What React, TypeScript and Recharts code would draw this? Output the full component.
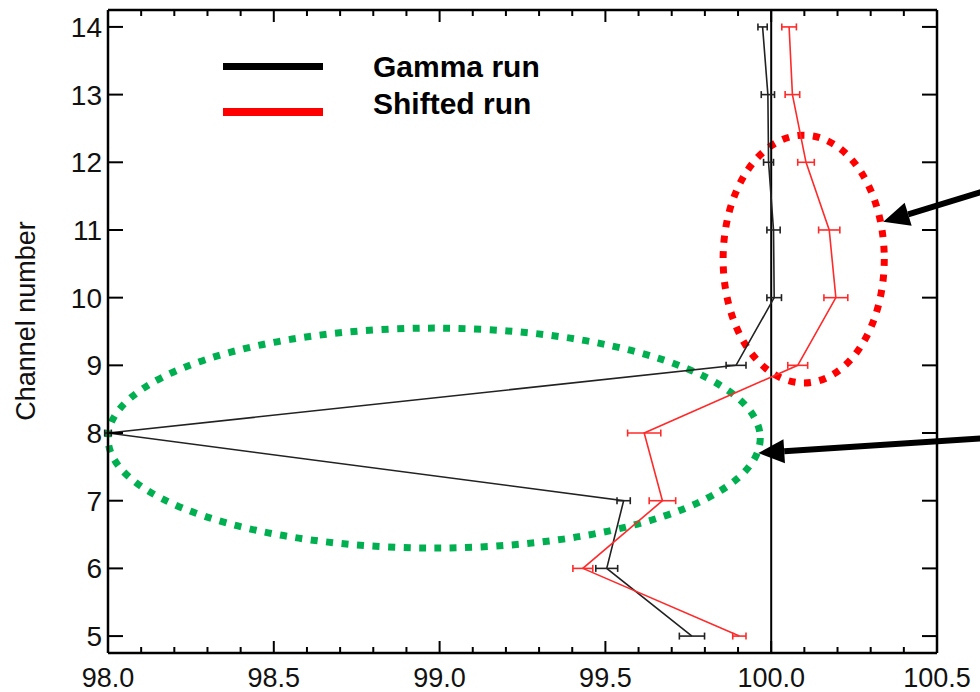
import { ComposedChart, Scatter, XAxis, YAxis, ErrorBar, ReferenceLine, ReferenceArea } from 'recharts';

const channels = [5, 6, 7, 8, 9, 10, 11, 12, 13, 14];
const gammaValues = [99.761, 99.504, 99.555, 98.0, 99.894, 100.009, 100.007, 99.992, 99.99, 99.974];
const gammaErrors = [0.038, 0.033, 0.02, 0.01, 0.03, 0.022, 0.02, 0.015, 0.02, 0.014];
const shiftedValues = [99.904, 99.432, 99.672, 99.617, 100.08, 100.195, 100.175, 100.105, 100.064, 100.054];
const shiftedErrors = [0.02, 0.03, 0.04, 0.05, 0.03, 0.036, 0.032, 0.025, 0.022, 0.022];

const xMajorTicks = [98.0, 98.5, 99.0, 99.5, 100.0, 100.5];
const xMinorTicks = [
  98.0, 98.1, 98.2, 98.3, 98.4, 98.5, 98.6, 98.7, 98.8, 98.9,
  99.0, 99.1, 99.2, 99.3, 99.4, 99.5, 99.6, 99.7, 99.8, 99.9,
  100.0, 100.1, 100.2, 100.3, 100.4, 100.5,
];

const X_DOMAIN = [98, 100.5];
const Y_DOMAIN = [4.75, 14.25];

// plot box, from the chart margins and axis sizes below
const PLOT = { left: 108, right: 937, top: 10, bottom: 653 };
const sx = (v: number) => PLOT.left + ((v - X_DOMAIN[0]) / (X_DOMAIN[1] - X_DOMAIN[0])) * (PLOT.right - PLOT.left);
const sy = (v: number) => PLOT.bottom - ((v - Y_DOMAIN[0]) / (Y_DOMAIN[1] - Y_DOMAIN[0])) * (PLOT.bottom - PLOT.top);

const FONT = '"Liberation Sans", Arial, Helvetica, sans-serif';

const gammaData = channels.map((ch, i) => ({ ch, x: gammaValues[i], err: gammaErrors[i] }));
const shiftedData = channels.map((ch, i) => ({ ch, x: shiftedValues[i], err: shiftedErrors[i] }));

const isMajor = (v: number) => xMajorTicks.some((m) => Math.abs(m - v) < 1e-6);

// bottom axis: tickSize 0, so the axis line sits tickMargin above y
const BottomTick = ({ x, y, payload }: any) => {
  const axisY = y - 16;
  const major = isMajor(payload.value);
  return (
    <g>
      <line x1={x} x2={x} y1={axisY} y2={axisY - (major ? 12 : 6)} stroke="#000" strokeWidth={2} />
      {major && (
        <text x={x} y={axisY + 34} textAnchor="middle" fontSize={27} fontFamily={FONT} fill="#111">
          {payload.value.toFixed(1)}
        </text>
      )}
    </g>
  );
};

const LeftTick = ({ x, y, payload }: any) => (
  <g>
    <line x1={x + 6} x2={x + 21} y1={y} y2={y} stroke="#000" strokeWidth={2} />
    <text x={x} y={y + 10} textAnchor="end" fontSize={28} fontFamily={FONT} fill="#111">
      {payload.value}
    </text>
  </g>
);

const NoDot = () => <g />;

const dottedEllipse = (color: string) => (props: any) => {
  const { x, y, width, height } = props;
  return (
    <ellipse
      cx={x + width / 2}
      cy={y + height / 2}
      rx={width / 2}
      ry={height / 2}
      fill="none"
      stroke={color}
      strokeWidth={7}
      strokeDasharray="7 8.5"
    />
  );
};

const arrowShape = (props: any) => {
  const { x1, y1, x2, y2 } = props;
  // x1,y1 = tail (off to the right), x2,y2 = tip
  const ang = Math.atan2(y2 - y1, x2 - x1);
  const len = 26;
  const half = 12;
  const bx = x2 - len * Math.cos(ang);
  const by = y2 - len * Math.sin(ang);
  const px = -Math.sin(ang) * half;
  const py = Math.cos(ang) * half;
  return (
    <g>
      <line x1={x1} y1={y1} x2={bx} y2={by} stroke="#000" strokeWidth={6} />
      <polygon points={`${x2},${y2} ${bx + px},${by + py} ${bx - px},${by - py}`} fill="#000" />
    </g>
  );
};

export default function App() {
  return (
    <div style={{ position: 'absolute', left: 0, top: 0, width: 980, height: 692, background: '#fff' }}>
      <ComposedChart width={980} height={692} margin={{ top: 9, right: 42, bottom: 0, left: 0 }}>
        <XAxis
          type="number"
          dataKey="x"
          domain={X_DOMAIN}
          allowDataOverflow
          ticks={xMinorTicks}
          interval={0}
          tickSize={0}
          tickMargin={16}
          tickLine={false}
          height={39}
          axisLine={{ stroke: '#000', strokeWidth: 2.5 }}
          tick={<BottomTick />}
        />
        <XAxis
          xAxisId="top"
          orientation="top"
          type="number"
          dataKey="x"
          domain={X_DOMAIN}
          allowDataOverflow
          tick={false}
          tickLine={false}
          height={1}
          axisLine={{ stroke: '#000', strokeWidth: 2.5 }}
        />
        <YAxis
          type="number"
          dataKey="ch"
          domain={Y_DOMAIN}
          allowDataOverflow
          ticks={channels}
          interval={0}
          tickSize={0}
          tickMargin={6}
          tickLine={false}
          width={108}
          axisLine={{ stroke: '#000', strokeWidth: 2.5 }}
          tick={<LeftTick />}
        />
        <YAxis
          yAxisId="right"
          orientation="right"
          type="number"
          dataKey="ch"
          domain={Y_DOMAIN}
          allowDataOverflow
          tick={false}
          tickLine={false}
          width={1}
          axisLine={{ stroke: '#000', strokeWidth: 2.5 }}
        />

        <ReferenceLine x={100} stroke="#000" strokeWidth={2} />

        <Scatter
          name="Gamma run"
          data={gammaData}
          line={{ stroke: '#222', strokeWidth: 1.6 }}
          shape={<NoDot />}
          isAnimationActive={false}
        >
          <ErrorBar dataKey="err" direction="x" width={3.5} stroke="#222" strokeWidth={1.6} />
        </Scatter>
        <Scatter
          name="Shifted run"
          data={shiftedData}
          line={{ stroke: '#ff2a2a', strokeWidth: 1.6 }}
          shape={<NoDot />}
          isAnimationActive={false}
        >
          <ErrorBar dataKey="err" direction="x" width={3.5} stroke="#ff2a2a" strokeWidth={1.6} />
        </Scatter>

        <ReferenceArea x1={99.855} x2={100.341} y1={8.74} y2={12.4} ifOverflow="visible" shape={dottedEllipse('#ff0000')} />
        <ReferenceArea x1={98.0} x2={99.967} y1={6.3} y2={9.55} ifOverflow="visible" shape={dottedEllipse('#00b050')} />

        <ReferenceLine
          segment={[{ x: 100.66, y: 11.6 }, { x: 100.338, y: 11.12 }]}
          ifOverflow="visible"
          shape={arrowShape}
        />
        <ReferenceLine
          segment={[{ x: 100.66, y: 7.93 }, { x: 99.961, y: 7.705 }]}
          ifOverflow="visible"
          shape={arrowShape}
        />
      </ComposedChart>

      <svg
        width={980}
        height={692}
        style={{ position: 'absolute', left: 0, top: 0, pointerEvents: 'none' }}
      >
        {/* mirrored tick marks on the top and right frame */}
        {xMinorTicks.map((v) => (
          <line
            key={`tt-${v}`}
            x1={sx(v)}
            x2={sx(v)}
            y1={PLOT.top}
            y2={PLOT.top + (isMajor(v) ? 12 : 6)}
            stroke="#000"
            strokeWidth={2}
          />
        ))}
        {channels.map((c) => (
          <line
            key={`rt-${c}`}
            x1={PLOT.right}
            x2={PLOT.right - 15}
            y1={sy(c)}
            y2={sy(c)}
            stroke="#000"
            strokeWidth={2}
          />
        ))}
        <text
          x={35}
          y={321}
          transform="rotate(-90 35 321)"
          textAnchor="middle"
          fontSize={27}
          fontFamily={FONT}
          fill="#111"
        >
          Channel number
        </text>
        <rect x={223} y={63} width={100} height={7} fill="#000" />
        <rect x={223} y={108} width={100} height={8} fill="#ff0000" />
        <text x={373} y={77} fontSize={30} fontWeight="bold" fontFamily={FONT} fill="#000">
          Gamma run
        </text>
        <text x={373} y={114} fontSize={30} fontWeight="bold" fontFamily={FONT} fill="#000">
          Shifted run
        </text>
      </svg>
    </div>
  );
}
